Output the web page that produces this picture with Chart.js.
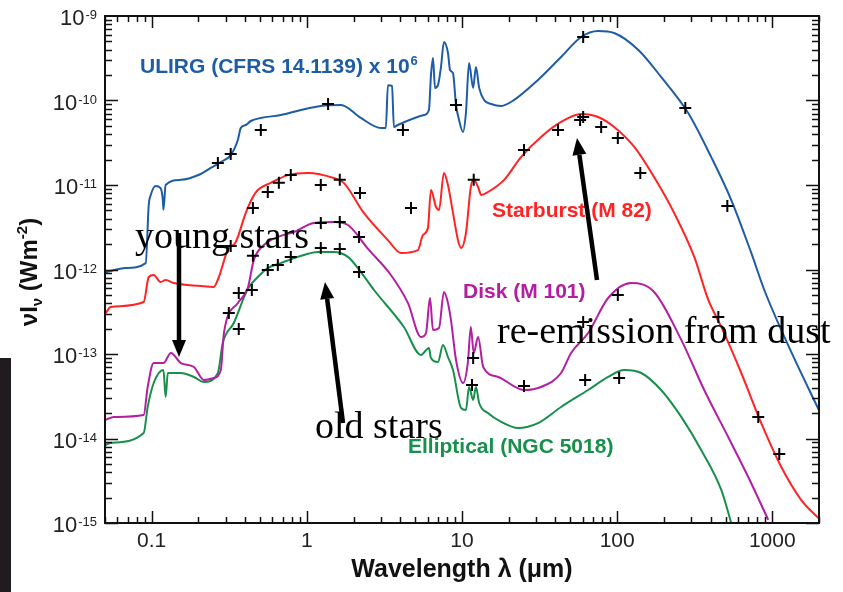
<!DOCTYPE html>
<html>
<head>
<meta charset="utf-8">
<script src="https://cdn.jsdelivr.net/npm/chart.js@4.4.1/dist/chart.umd.min.js"></script>
<style>
  html, body { margin: 0; padding: 0; background: #fff; }
</style>
</head>
<body>
<canvas id="sed" width="843" height="592"></canvas>
<script>
// wavelength in micron, nu I_nu in W m^-2
const ulirgWave = [0.0505, 0.068, 0.0915, 0.0957, 0.0986, 0.106, 0.114, 0.118, 0.119, 0.123, 0.154, 0.207, 0.24, 0.279, 0.323, 0.359, 0.375, 0.404, 0.435, 0.505, 0.679, 0.915, 1.23, 1.66, 2.23, 3.0, 3.23, 3.33, 3.54, 3.64, 3.86, 5.69, 6.12, 6.31, 6.5, 6.7, 7.0, 7.32, 7.65, 8.12, 8.37, 8.75, 9.15, 9.57, 10.15, 10.6, 11.1, 11.8, 12.3, 12.9, 13.9, 15.4, 17.9, 21.6, 30.9, 43.5, 58.6, 75.4, 95.6, 137, 192, 287, 404, 544, 732, 888, 1327, 2040];
const ulirgFlux = [9.3e-13, 1.04e-12, 1.19e-12, 5.8e-12, 7.6e-12, 9.7e-12, 9.2e-12, 6.6e-12, 5.1e-12, 1.0e-11, 1.15e-11, 1.35e-11, 1.59e-11, 1.87e-11, 2.26e-11, 3.41e-11, 4.73e-11, 5.13e-11, 5.72e-11, 6.21e-11, 6.73e-11, 7.72e-11, 8.61e-11, 8.85e-11, 6.21e-11, 4.73e-11, 4.73e-11, 1.52e-10, 1.49e-10, 4.86e-11, 5.13e-11, 6.73e-11, 7.72e-11, 2.0e-10, 3.18e-10, 1.41e-10, 1.52e-10, 2.49e-10, 4.92e-10, 3.65e-10, 2.3e-10, 2.11e-10, 8.85e-11, 5.88e-11, 4.24e-11, 7.11e-11, 2.78e-10, 1.41e-10, 2.49e-10, 1.41e-10, 1.01e-10, 9.1e-11, 8.61e-11, 1.01e-10, 1.75e-10, 3.27e-10, 5.64e-10, 6.64e-10, 6.29e-10, 3.96e-10, 1.9e-10, 7.11e-11, 2.14e-11, 6.64e-12, 1.57e-12, 5.72e-13, 1.05e-13, 2.0e-14];

const starburstWave = [0.0505, 0.0544, 0.0888, 0.0957, 0.103, 0.114, 0.123, 0.139, 0.207, 0.251, 0.271, 0.309, 0.348, 0.404, 0.449, 0.483, 0.586, 0.754, 1.015, 1.49, 1.73, 2.33, 3.33, 4.04, 5.2, 5.6, 6.03, 6.31, 6.8, 7.11, 7.65, 8.12, 8.75, 9.42, 9.85, 10.6, 11.4, 11.9, 12.7, 13.3, 14.7, 18.7, 24.0, 32.3, 43.5, 58.6, 75.4, 95.6, 129, 173, 233, 314, 387, 469, 631, 849, 1143, 1538, 2040];
const starburstFlux = [3.05e-13, 3.6e-13, 4.12e-13, 8.15e-13, 8.61e-13, 7.11e-13, 7.51e-13, 6.92e-13, 6.38e-13, 6.21e-13, 8.15e-13, 1.7e-12, 2.11e-12, 4.67e-12, 7.21e-12, 8.73e-12, 1.06e-11, 1.31e-11, 1.39e-11, 1.21e-11, 1.06e-11, 4.67e-12, 2.23e-12, 1.57e-12, 1.7e-12, 2.56e-12, 3.1e-12, 8.73e-12, 5.5e-12, 5.06e-12, 1.39e-11, 1.0e-11, 4.67e-12, 2.23e-12, 1.8e-12, 2.7e-12, 9.46e-12, 1.15e-11, 9.46e-12, 7.62e-12, 8.26e-12, 1.15e-11, 2.14e-11, 3.7e-11, 5.57e-11, 6.92e-11, 6.38e-11, 4.86e-11, 2.82e-11, 1.24e-11, 4.67e-12, 1.41e-12, 4.36e-13, 2.09e-13, 5.96e-14, 1.52e-14, 4.6e-15, 1.87e-15, 1.09e-15];

const diskWave = [0.0505, 0.0569, 0.0888, 0.0942, 0.103, 0.119, 0.133, 0.154, 0.187, 0.217, 0.251, 0.279, 0.292, 0.359, 0.416, 0.455, 0.528, 0.65, 0.824, 1.11, 1.49, 1.84, 2.48, 3.48, 4.48, 5.44, 5.86, 6.22, 6.5, 7.11, 7.65, 8.12, 8.49, 9.15, 10.15, 10.9, 11.4, 11.9, 12.7, 13.7, 17.1, 25.1, 32.3, 43.5, 50.5, 65.0, 87.5, 123, 173, 259, 364, 520, 700, 942];
const diskFlux = [1.66e-14, 1.8e-14, 1.9e-14, 4.07e-14, 7.82e-14, 7.82e-14, 1.03e-13, 7.82e-14, 7.02e-14, 4.92e-14, 5.2e-14, 6.47e-14, 1.77e-13, 4.02e-13, 6.04e-13, 1.29e-12, 1.95e-12, 2.43e-12, 2.78e-12, 3.55e-12, 3.65e-12, 3.36e-12, 1.75e-12, 8.61e-13, 4.02e-13, 1.59e-13, 1.77e-13, 4.6e-13, 1.92e-13, 2.03e-13, 5.42e-13, 4.02e-13, 2.52e-13, 8.49e-14, 4.54e-14, 7.82e-14, 2.09e-13, 1.03e-13, 1.59e-13, 7.02e-14, 5.35e-14, 3.75e-14, 4.07e-14, 5.96e-14, 1.03e-13, 1.77e-13, 4.6e-13, 6.92e-13, 5.42e-13, 1.47e-13, 3.75e-14, 1.04e-14, 3.5e-15, 1.09e-15];

const ellipticalWave = [0.0505, 0.0544, 0.0888, 0.0942, 0.103, 0.119, 0.123, 0.127, 0.154, 0.187, 0.217, 0.267, 0.287, 0.338, 0.416, 0.483, 0.56, 0.679, 0.875, 1.18, 1.49, 1.84, 2.23, 2.71, 4.22, 5.44, 6.12, 6.31, 7.0, 7.54, 8.12, 8.75, 9.85, 10.6, 11.1, 11.8, 12.3, 12.9, 14.7, 17.9, 23.0, 30.9, 43.5, 65.0, 87.5, 111, 143, 192, 259, 348, 469, 544];
const ellipticalFlux = [8.38e-15, 8.85e-15, 1.16e-14, 2.36e-14, 4.54e-14, 6.47e-14, 3.1e-14, 5.96e-14, 5.96e-14, 5.35e-14, 4.67e-14, 5.96e-14, 1.35e-13, 2.33e-13, 5.87e-13, 8.15e-13, 1.04e-12, 1.19e-12, 1.41e-12, 1.61e-12, 1.61e-12, 1.41e-12, 9.33e-13, 5.72e-13, 2.09e-13, 9.73e-14, 1.18e-13, 8.97e-14, 8.04e-14, 1.28e-13, 9.21e-14, 6.47e-14, 2.3e-14, 2.17e-14, 4.07e-14, 2.86e-14, 4.07e-14, 2.63e-14, 2.0e-14, 1.57e-14, 1.33e-14, 1.52e-14, 2.36e-14, 3.75e-14, 5.35e-14, 6.47e-14, 5.96e-14, 3.75e-14, 1.8e-14, 7.31e-15, 2.46e-15, 1.0e-15];

// photometric points (the crosses)
const ulirgPhotWave = [0.267, 0.323, 0.505, 1.37, 4.16, 9.15, 60.4, 275, 513];
const ulirgPhotFlux = [1.82e-11, 2.33e-11, 4.48e-11, 9.1e-11, 4.48e-11, 8.85e-11, 5.64e-10, 8.15e-11, 5.64e-12];
const starburstPhotWave = [0.323, 0.449, 0.56, 0.66, 0.788, 1.23, 1.63, 2.2, 4.69, 11.9, 25.1, 41.6, 57.7, 60.4, 78.9, 101, 141, 449, 812, 1109];
const starburstPhotFlux = [1.9e-12, 5.35e-12, 8.26e-12, 1.06e-11, 1.31e-11, 1.0e-11, 1.15e-11, 8.04e-12, 5.35e-12, 1.15e-11, 2.6e-11, 4.48e-11, 5.88e-11, 6.38e-11, 4.86e-11, 3.6e-11, 1.39e-11, 2.74e-13, 1.8e-14, 6.56e-15];
const diskPhotWave = [0.314, 0.364, 0.449, 1.23, 1.63, 2.17, 11.8, 25.1, 60.4, 101];
const diskPhotFlux = [3.05e-13, 5.27e-13, 1.45e-12, 3.55e-12, 3.65e-12, 2.43e-12, 8.97e-14, 4.18e-14, 2.39e-13, 4.99e-13];
const ellipticalPhotWave = [0.364, 0.442, 0.56, 0.65, 0.788, 1.23, 1.63, 2.17, 11.6, 62.2, 103];
const ellipticalPhotFlux = [1.98e-13, 5.72e-13, 9.86e-13, 1.13e-12, 1.41e-12, 1.8e-12, 1.75e-12, 9.33e-13, 4.3e-14, 4.92e-14, 5.2e-14];

const xTicks = [0.1, 1, 10, 100, 1000];
const yTicks = [1e-15, 1e-14, 1e-13, 1e-12, 1e-11, 1e-10, 1e-9];

const BLUE = "#1f5ca6", RED = "#ff2323", MAGENTA = "#b41ea0", GREEN = "#16904a";
const SANS = '"Liberation Sans", Arial, sans-serif';

const toPoints = (w, f) => w.map((x, i) => ({ x, y: f[i] }));

const curve = (label, w, f, color) => ({
  label,
  data: toPoints(w, f),
  showLine: true,
  borderColor: color,
  borderWidth: 2,
  pointRadius: 0,
  cubicInterpolationMode: "monotone",
  order: 1,
});

const crosses = (label, w, f) => ({
  label,
  data: toPoints(w, f),
  showLine: false,
  pointStyle: "cross",
  pointRadius: 6,
  borderColor: "#000",
  borderWidth: 2,
  order: 0,
});

// frame with inward major/minor ticks on all four sides, y labels with superscripts
const framePlugin = {
  id: "frame",
  beforeDraw(chart) {
    const ctx = chart.ctx;
    ctx.save();
    ctx.fillStyle = "#fff";
    ctx.fillRect(0, 0, chart.width, chart.height);
    // dark strip from the photo the figure was cut from
    ctx.fillStyle = "#1f1b1e";
    ctx.fillRect(0, 358, 11, chart.height - 358);
    ctx.restore();
  },
  afterDatasetsDraw(chart) {
    const { ctx, chartArea: a, scales: { x, y } } = chart;
    ctx.save();
    ctx.strokeStyle = "#111";
    ctx.lineWidth = 1.5;
    ctx.beginPath();
    for (let d = -2; d <= 3; d++) {
      for (let m = 1; m <= 9; m++) {
        const v = Number((m * Math.pow(10, d)).toPrecision(3));
        if (v < x.min * 0.999 || v > x.max * 1.001) continue;
        const px = Math.round(x.getPixelForValue(v)) + 0.5;
        const len = m === 1 ? 12 : 6;
        ctx.moveTo(px, a.bottom); ctx.lineTo(px, a.bottom - len);
        ctx.moveTo(px, a.top); ctx.lineTo(px, a.top + len);
      }
    }
    for (let d = -15; d <= -10; d++) {
      for (let m = 1; m <= 9; m++) {
        const v = m * Math.pow(10, d);
        const py = Math.round(y.getPixelForValue(v)) + 0.5;
        const len = m === 1 ? 13 : 7;
        ctx.moveTo(a.left, py); ctx.lineTo(a.left + len, py);
        ctx.moveTo(a.right, py); ctx.lineTo(a.right - len, py);
      }
    }
    ctx.stroke();
    ctx.lineWidth = 2;
    ctx.strokeRect(a.left, a.top, a.right - a.left, a.bottom - a.top);

    // y tick labels: 10 with a raised exponent
    ctx.fillStyle = "#222";
    ctx.textAlign = "right";
    ctx.textBaseline = "alphabetic";
    y.ticks.forEach((t) => {
      const py = y.getPixelForValue(t.value);
      const exp = "-" + String(Math.abs(Math.round(Math.log10(t.value))));
      ctx.font = `13px ${SANS}`;
      const ew = ctx.measureText(exp).width;
      ctx.fillText(exp, 97, py + 3);
      ctx.font = `22px ${SANS}`;
      ctx.fillText("10", 97 - ew - 1, py + 9);
    });
    ctx.textAlign = "left";

    // y axis title: nu I_nu (W m^-2)
    const parts = [
      { t: "\u03BDI", size: 24, dy: 0 },
      { t: "\u03BD", size: 15, dy: 5 },
      { t: " (Wm", size: 24, dy: 0 },
      { t: "-2", size: 15, dy: -10 },
      { t: ")", size: 24, dy: 0 },
    ];
    const font = (s) => `bold ${s}px ${SANS}`;
    let total = 0;
    parts.forEach((p) => { ctx.font = font(p.size); p.w = ctx.measureText(p.t).width; total += p.w; });
    ctx.translate(37, 272);
    ctx.rotate(-Math.PI / 2);
    ctx.fillStyle = "#111";
    let cx = -total / 2;
    parts.forEach((p) => { ctx.font = font(p.size); ctx.fillText(p.t, cx, p.dy); cx += p.w; });
    ctx.restore();
  },
};

// series names and the hand-written notes with arrows
const seriesLabels = [
  { text: "ULIRG (CFRS 14.1139) x 10", sup: "6", x: 140, y: 73, color: BLUE },
  { text: "Starburst (M 82)", x: 492, y: 217, color: RED },
  { text: "Disk (M 101)", x: 463, y: 298, color: MAGENTA },
  { text: "Elliptical (NGC 5018)", x: 408, y: 453, color: GREEN },
];
const notes = [
  { text: "young stars", x: 135, y: 248 },
  { text: "old stars", x: 315, y: 438 },
  { text: "re-emission from dust", x: 497, y: 343 },
];
const arrows = [
  { from: [179, 233], to: [179, 357] },
  { from: [343, 423], to: [325, 282] },
  { from: [597, 280], to: [577, 138] },
];

const notesPlugin = {
  id: "notes",
  afterDraw(chart) {
    const ctx = chart.ctx;
    ctx.save();
    seriesLabels.forEach((l) => {
      ctx.font = `bold 21px ${SANS}`;
      ctx.fillStyle = l.color;
      ctx.fillText(l.text, l.x, l.y);
      if (l.sup) {
        const w = ctx.measureText(l.text).width;
        ctx.font = `bold 13px ${SANS}`;
        ctx.fillText(l.sup, l.x + w + 1, l.y - 8);
      }
    });
    ctx.fillStyle = "#000";
    ctx.strokeStyle = "#000";
    arrows.forEach(({ from, to }) => {
      const ang = Math.atan2(to[1] - from[1], to[0] - from[0]);
      const head = 17, half = 7;
      const bx = to[0] - head * Math.cos(ang), by = to[1] - head * Math.sin(ang);
      ctx.lineWidth = 4.5;
      ctx.beginPath();
      ctx.moveTo(from[0], from[1]);
      ctx.lineTo(bx, by);
      ctx.stroke();
      ctx.beginPath();
      ctx.moveTo(to[0], to[1]);
      ctx.lineTo(bx + half * Math.sin(ang), by - half * Math.cos(ang));
      ctx.lineTo(bx - half * Math.sin(ang), by + half * Math.cos(ang));
      ctx.closePath();
      ctx.fill();
    });
    ctx.font = '38px "Liberation Serif", "Times New Roman", serif';
    notes.forEach((n) => ctx.fillText(n.text, n.x, n.y));
    ctx.restore();
  },
};

new Chart(document.getElementById("sed"), {
  type: "scatter",
  data: {
    datasets: [
      curve("ULIRG (CFRS 14.1139) x 10^6", ulirgWave, ulirgFlux, BLUE),
      curve("Starburst (M 82)", starburstWave, starburstFlux, RED),
      curve("Disk (M 101)", diskWave, diskFlux, MAGENTA),
      curve("Elliptical (NGC 5018)", ellipticalWave, ellipticalFlux, GREEN),
      crosses("ULIRG photometry", ulirgPhotWave, ulirgPhotFlux),
      crosses("Starburst photometry", starburstPhotWave, starburstPhotFlux),
      crosses("Disk photometry", diskPhotWave, diskPhotFlux),
      crosses("Elliptical photometry", ellipticalPhotWave, ellipticalPhotFlux),
    ],
  },
  options: {
    responsive: false,
    animation: false,
    events: [],
    layout: { padding: { top: 16, right: 24, left: 0, bottom: 0 } },
    plugins: { legend: { display: false }, tooltip: { enabled: false } },
    scales: {
      x: {
        type: "logarithmic",
        min: 0.05,
        max: 2000,
        afterBuildTicks: (s) => { s.ticks = xTicks.map((v) => ({ value: v })); },
        afterFit: (s) => { s.height = 69; },
        grid: { display: false },
        border: { display: false },
        ticks: {
          autoSkip: false,
          maxRotation: 0,
          padding: -2,
          color: "#222",
          font: { family: SANS, size: 21 },
          callback: (v) => String(v),
        },
        title: {
          display: true,
          text: "Wavelength \u03BB (\u03BCm)",
          color: "#111",
          font: { family: SANS, size: 25, weight: "bold" },
          padding: { top: 0, bottom: 7 },
        },
      },
      y: {
        type: "logarithmic",
        min: 1e-15,
        max: 1e-9,
        afterBuildTicks: (s) => { s.ticks = yTicks.map((v) => ({ value: v })); },
        afterFit: (s) => { s.width = 105; },
        grid: { display: false },
        border: { display: false },
        ticks: { display: false },
      },
    },
  },
  plugins: [framePlugin, notesPlugin],
});
</script>
</body>
</html>
